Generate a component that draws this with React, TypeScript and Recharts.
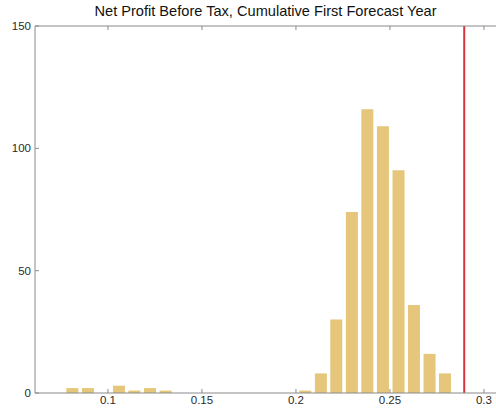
import { ComposedChart, Bar, XAxis, YAxis, ReferenceLine } from 'recharts';

// histogram bin centres and counts
const binCenters = [
  0.0809, 0.0892, 0.0974, 0.1057, 0.1139, 0.1222, 0.1305, 0.1387, 0.147, 0.1552,
  0.1635, 0.1718, 0.18, 0.1883, 0.1965, 0.2048, 0.2131, 0.2213, 0.2296, 0.2378,
  0.2461, 0.2544, 0.2626, 0.2709, 0.2791,
];
const binCounts = [
  2, 2, 0, 3, 1, 2, 1, 0, 0, 0,
  0, 0, 0, 0, 0, 1, 8, 30, 74, 116,
  109, 91, 36, 16, 8,
];
const xTicks = [0.1, 0.15, 0.2, 0.25, 0.3];
const yTicks = [0, 50, 100, 150];
const targetValue = 0.2895;

const data = binCenters.map((c, i) => ({ center: c, count: binCounts[i] }));

const axisColor = '#8a8a8a';
const labelStyle = { fill: '#2a2a2a', fontSize: 11.5, fontFamily: 'Liberation Sans, Arial, sans-serif' };

export default function App() {
  return (
    <div style={{ position: 'absolute', left: 0, top: 0, width: 496, height: 410, background: '#fff' }}>
      <div
        style={{
          position: 'absolute', left: 35, width: 461, top: 3, textAlign: 'center',
          fontFamily: 'Liberation Sans, Arial, sans-serif', fontSize: 14.6, color: '#111',
        }}
      >
        Net Profit Before Tax, Cumulative First Forecast Year
      </div>
      <ComposedChart width={496} height={410} data={data} margin={{ top: 0, right: 0, bottom: 0, left: 0 }}>
        <XAxis
          xAxisId="b" type="number" dataKey="center" domain={[0.0612, 0.3064]} ticks={xTicks}
          allowDataOverflow height={17} tickSize={-4} tickMargin={7}
          stroke={axisColor} tick={labelStyle}
          tickFormatter={(v: number) => String(v)}
        />
        <XAxis
          xAxisId="t" orientation="top" type="number" dataKey="center" domain={[0.0612, 0.3064]} ticks={xTicks}
          allowDataOverflow height={26} tickSize={-4} tickMargin={4}
          stroke={axisColor} tickFormatter={() => ''}
        />
        <YAxis
          yAxisId="l" type="number" domain={[0, 150]} ticks={yTicks} width={35}
          tickSize={-4} tickMargin={8} stroke={axisColor} tick={labelStyle}
        />
        <YAxis
          yAxisId="r" orientation="right" type="number" domain={[0, 150]} ticks={yTicks} width={0}
          tickSize={-4} stroke={axisColor} tickFormatter={() => ''}
        />
        <Bar xAxisId="b" yAxisId="l" dataKey="count" fill="#e5c67a" barSize={12} isAnimationActive={false} />
        <ReferenceLine xAxisId="b" yAxisId="l" x={targetValue} stroke="#d6363a" strokeWidth={2} />
      </ComposedChart>
    </div>
  );
}
